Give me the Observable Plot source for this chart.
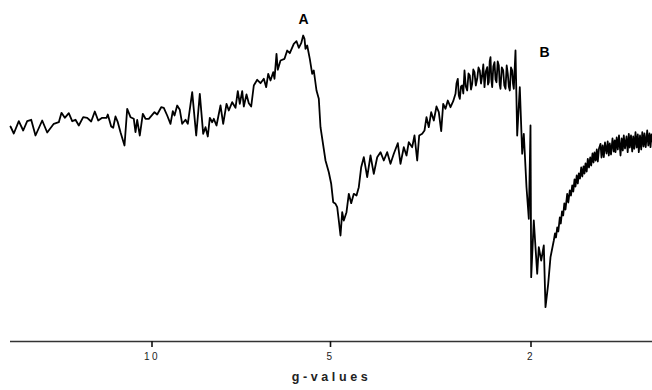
<!DOCTYPE html>
<html>
<head>
<meta charset="utf-8">
<script src="https://cdn.jsdelivr.net/npm/d3@7"></script>
<script src="https://cdn.jsdelivr.net/npm/@observablehq/plot@0.6"></script>
<style>
  html, body { margin: 0; padding: 0; background: #fff; }
  svg { display: block; }
</style>
</head>
<body>
<div id="chart"></div>
<script>
// Field position (arbitrary units along the field axis) and EPR signal (arbitrary units)
const fieldPos = [
  0,3.3,8.3,12.7,16.7,20.7,25,31.7,36.7,43.3,48.3,51,54.3,58.3,61.7,65,68.3,72.7,76.7,80.7,
  84.3,87.7,91.7,96,97.3,100.7,102.7,105,107.3,110,114,116.7,120,123.3,125,126.7,129.3,132.3,135,138.3,
  144,146.7,150.7,153.3,156.7,160,162.3,164,166.7,169.3,171.7,175,177.3,181.7,185.7,189.3,192.7,195,197.3,199.3,
  201.7,203.3,206,210,212.7,216,218.3,221.7,225,227.3,229.3,231.7,233.3,236,238.3,240.7,243.3,246.7,250,253.3,
  255.7,257.7,260,262.7,264,266,267.3,270,274,276.7,279.3,283.3,286,288.3,290.7,292.7,294,295,296.7,299.3,
  301.7,303.3,306,308.3,310,315,318.3,320.7,322.7,325,326.7,328.3,330,331.7,333.3,336,338.3,340.7,343.3,346,
  348.3,350.7,353.3,356.7,360,363.3,366.7,370,373.3,376.7,380,383.3,387.3,390,393.3,396,398.3,401.7,404,406.7,
  408.7,411.7,414,416,418.3,420.7,423.3,426,428.3,430.7,432.7,435,437.3,440,442.7,
  445,446,447.3,448.3,449.3,450.5,451.7,452.8,454,455.3,456.7,458,459.3,460.5,461.7,462.8,464,465.3,466.7,468,
  469.3,470.5,471.7,472.8,474,475.3,476.7,477.5,478.3,479.2,480,480.8,481.7,482.8,484,485,486,487.2,488.3,489.2,
  490,491.3,492.7,493.8,495,496.2,497.3,498.3,499.3,500.5,501.7,502.5,503.3,505,
  506.7,509.3,511.7,513.3,516,518.3,520,520.7,523.3,525,526.7,528.3,530.7,533.3,535,537.7,540,
  543.3,544.5,545.5,546.7,547.8,549.3,550.3,551.5,552.7,553.8,555,556.7,557.8,559.3,560.5,561.7,562.8,564,565,566.2,
  567.3,568.3,569.5,570.7,571.8,573,574,575,576.2,577.3,578.5,579.7,580.7,582,583,584,585.2,586.3,587.3,588.5,
  590,591,592.2,593.3,594.5,596,597.2,598.3,599.3,600.5,602,603.2,604.2,605,606.2,607.3,608.5,610,611.2,612.3,
  613.3,614.5,616,617.2,618.3,619.3,620.5,621.7,622.7,623.8,625,626.2,627.3,628.3,629.5,630.7,631.8,633,634,635.2,
  636.7,637.8,639,640,641,642
];
const signal = [
  215,208,220.3,211,220.3,221.7,206,221,209,217.7,219.3,228.7,223.7,228.3,220.3,221.7,216,224.3,223.7,220,
  230,221,223.7,223.7,227,215,213.7,225,219.3,209.3,196,232.7,224.3,222.7,209.3,221.7,206,227.7,222.7,222.7,
  229.3,227,234.3,233.7,226,217.7,230.3,226,236,231.7,217.7,221.7,217.7,249.3,206,247.7,207.7,214.3,205,223.7,
  219.3,222.7,216,236,217.7,237.7,231,239.3,233.7,250.3,237.7,250.3,235,247,238.3,235,256,261.7,258.3,262.7,
  254.3,267.7,261,269.3,262.7,287.7,271.7,281,282.7,291,288.3,297.7,300.3,293.7,298.3,306,302.7,292.7,296,282.7,
  267.7,271,251,242.7,214.3,181,169.3,157.7,139.3,137.7,134.3,121,106,129.3,121,129.3,147.7,138.3,147.7,146,
  154.3,174.3,184.3,164.3,186,167.7,184.3,189.3,181,189.3,177.7,187.7,198.3,177.7,194.3,186,199.3,194.3,206,181,
  206,207.7,211,224.3,214.3,229.3,221,235,229.3,210.3,237.7,232.7,241,234.3,240.3,
  247.7,258,262.7,246,242.7,255,256,248,271,255,251,268,266,252,257.7,272,269.3,256,262.7,274,
  271,258,266,277,254.3,270,274.3,257,259.3,280,284.3,262,254.3,275,279.3,262,259.3,280,276,257,
  252.7,274,271,256,252.7,276,267.7,255,251,274,271,258,252.7,291,
  206,254.3,187.7,207.7,154.3,122.7,216,64.3,121,94.3,67.7,94.3,81,96,34.3,57.7,84.3,
  101,108,104,114,110,124,118,130,126,138,132,147.7,139,151,146,156,150,162,155,166,
  158,168,163,174,165,175,168,178,170,182.7,174,184,176,188,179,189,181,192,180,193,
  197.7,184,196,184.3,199,188,200,186,198,187,203,190,201,189.3,204,192,206,186,203,191,
  206,193,205,189.3,207.7,194,206,190,205,192.7,209.3,194,207,189.3,206,192,209.3,195,208,194.3,
  211,196,208,194.3,207,200
];
// Axis ticks: position on the field axis and the g-value label
const tickPos = [141.5, 320, 520.5];
const tickLabels = ["10", "5", "2"];
// Peak annotations
const peakNames = ["A", "B"];
const peakPos = [293, 534];
const peakLevel = [322, 289];

const n = Math.min(fieldPos.length, signal.length);
const spectrum = d3.range(n).map(i => ({x: fieldPos[i], y: signal[i]}));
const peaks = peakNames.map((t, i) => ({t, x: peakPos[i], y: peakLevel[i]}));

const chart = Plot.plot({
  width: 652,
  height: 390,
  marginLeft: 10,
  marginRight: 0,
  marginTop: 20,
  marginBottom: 49,
  style: {fontFamily: "'Liberation Sans', Arial, sans-serif", background: "#fff"},
  x: {domain: [0, 642], axis: null},
  y: {domain: [0, 321], axis: null},
  marks: [
    Plot.ruleY([0], {stroke: "#333", strokeWidth: 1.6}),
    Plot.axisX({
      ticks: tickPos,
      tickFormat: d => tickLabels[tickPos.indexOf(d)],
      tickSize: 6,
      tickPadding: 5,
      fontSize: 10,
      stroke: "#111",
      strokeWidth: 1.6,
      color: "#222",
      label: null
    }),
    Plot.line(spectrum, {x: "x", y: "y", stroke: "#000", strokeWidth: 1.8, strokeLinejoin: "round"}),
    Plot.text(peaks, {x: "x", y: "y", text: "t", fontSize: 14, fontWeight: "bold", fill: "#000"}),
    Plot.text(["g-values"], {frameAnchor: "bottom", dy: 39, text: d => d, fontSize: 12.5, fontWeight: "bold", fill: "#222"})
  ]
});
document.getElementById("chart").appendChild(chart);
d3.select(chart).selectAll("text").each(function() {
  const t = d3.select(this).text();
  if (t === "g-values") d3.select(this).style("letter-spacing", "3.6px");
  else if (tickLabels.includes(t)) d3.select(this).style("letter-spacing", "2.5px");
});
</script>
</body>
</html>
